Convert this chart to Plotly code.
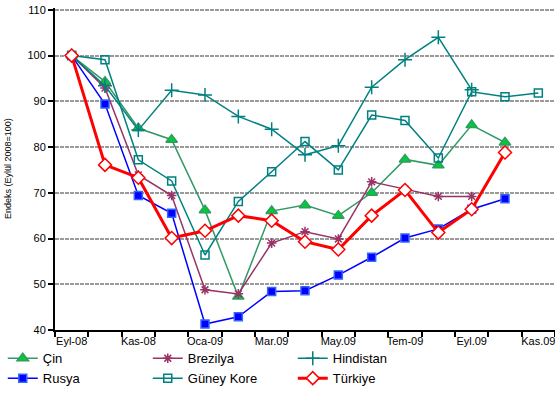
import plotly.graph_objects as go

months = ["Eyl-08", "Eki-08", "Kas-08", "Ara-08", "Oca-09", "Şub-09", "Mar.09", "Nis-09",
          "May.09", "Haz-09", "Tem-09", "Ağu-09", "Eyl.09", "Eki-09", "Kas.09"]
tick_labels = ["Eyl-08", "", "Kas-08", "", "Oca-09", "", "Mar.09", "", "May.09", "",
               "Tem-09", "", "Eyl.09", "", "Kas.09"]

cin = [100, 94.3, 84.1, 81.6, 66.2, 47.3, 66.0, 67.3, 65.0, 70.0, 77.3, 76.0, 84.8, 81.0, None]
brezilya = [100, 92.9, 73.9, 69.4, 48.8, 47.9, 59.0, 61.5, 59.9, 72.4, 70.8, 69.2, 69.2, None, None]
hindistan = [100, 93.4, 83.7, 92.4, 91.4, 86.7, 83.9, 78.3, 80.3, 93.1, 99.1, 104.0, 92.5, None, None]
rusya = [100, 89.4, 69.4, 65.5, 41.3, 42.9, 48.4, 48.6, 52.0, 55.9, 60.1, 62.1, 66.4, 68.7, None]
guney_kore = [100, 99.1, 77.2, 72.6, 56.4, 68.1, 74.6, 81.2, 75.0, 87.0, 85.8, 77.6, 92.1, 91.0, 91.8]
turkiye = [100, 76.1, 73.3, 60.1, 61.7, 65.0, 63.9, 59.3, 57.6, 65.0, 70.6, 61.3, 66.4, 78.8, None]

fig = go.Figure()

def add(name, vals, color, symbol, msize, mcolor, mline, width):
    fig.add_trace(go.Scatter(
        x=months, y=vals, name=name, mode="lines+markers",
        line=dict(color=color, width=width),
        marker=dict(symbol=symbol, size=msize, color=mcolor,
                    line=dict(color=mline, width=1.5)),
        connectgaps=False,
    ))

add("Çin", cin, "#339966", "triangle-up", 10, "#00CC33", "#339966", 1.5)
add("Brezilya", brezilya, "#993366", "asterisk", 8, "#993366", "#993366", 1.5)
add("Hindistan", hindistan, "#008080", "cross-thin", 10, "#008080", "#008080", 1.5)
add("Rusya", rusya, "#0000FF", "square", 8, "#0000FF", "#3366FF", 1.5)
add("Güney Kore", guney_kore, "#008080", "square-open", 8, "#008080", "#008080", 1.5)
add("Türkiye", turkiye, "#FF0000", "diamond", 10, "white", "#FF0000", 3)

fig.update_layout(
    width=555, height=414,
    margin=dict(l=55, r=0, t=8, b=84, autoexpand=False),
    paper_bgcolor="white", plot_bgcolor="white",
    font=dict(family="Liberation Sans, Arial, sans-serif", size=11, color="black"),
    showlegend=True,
    legend=dict(orientation="h", x=0.005, xref="container", y=0.05, yref="container",
                xanchor="left", yanchor="bottom", entrywidth=100, entrywidthmode="pixels",
                font=dict(size=13), itemwidth=30, tracegroupgap=0,
                bgcolor="rgba(0,0,0,0)"),
)

fig.update_xaxes(
    type="category", categoryorder="array", categoryarray=months,
    range=[-0.5, 14.5], automargin=False,
    tickmode="array", tickvals=months, ticktext=tick_labels, tickangle=0,
    tickson="boundaries", ticks="outside", ticklen=5, tickwidth=1.5, tickcolor="black",
    showline=True, linecolor="black", linewidth=2,
    showgrid=False, zeroline=False,
    tickfont=dict(size=11),
)
fig.update_yaxes(
    range=[40, 110.4], dtick=10, tick0=40, automargin=False,
    ticks="outside", ticklen=5, tickwidth=1.5, tickcolor="black",
    showline=True, linecolor="black", linewidth=2,
    showgrid=True, gridcolor="#9a9a9a", gridwidth=2, griddash="4px,1px",
    zeroline=False, tickfont=dict(size=11),
)

fig.add_annotation(
    text="Endeks (Eylül 2008=100)", xref="paper", yref="paper",
    x=-0.094, y=0.5, xanchor="center", yanchor="middle",
    textangle=-90, showarrow=False, font=dict(size=9, color="black"),
)

fig.write_html("out.html", config={"displayModeBar": False},
               post_script="document.body.style.margin='0';")
